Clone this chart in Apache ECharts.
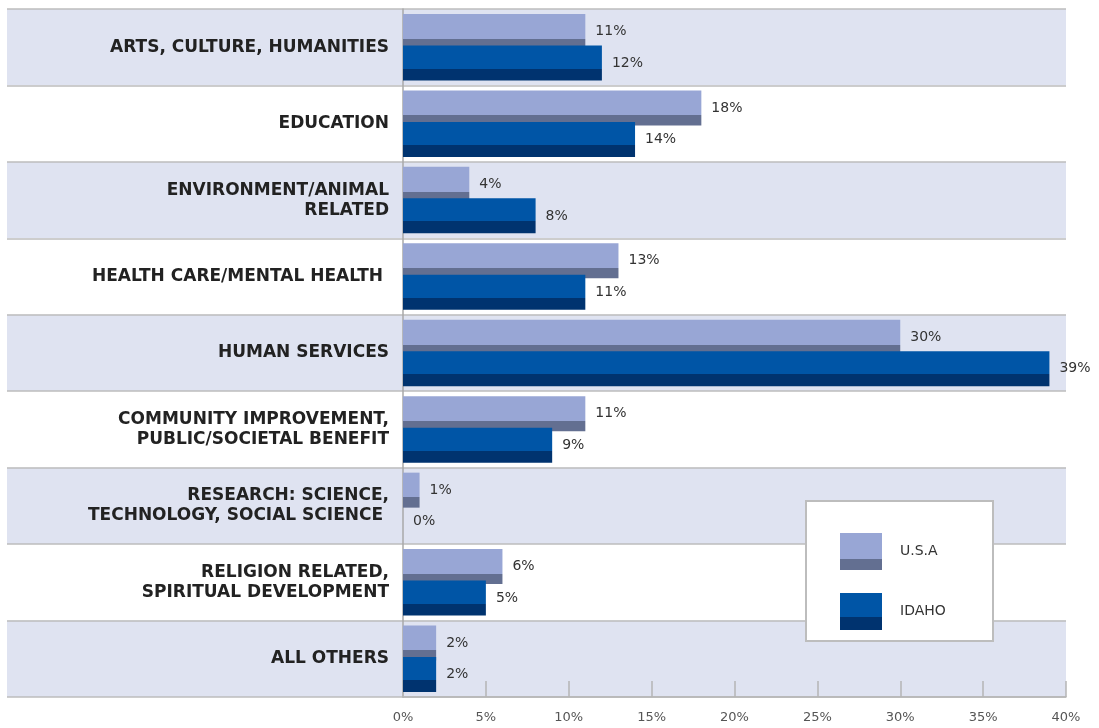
<!DOCTYPE html>
<html>
<head>
<meta charset="utf-8">
<script src="https://cdn.jsdelivr.net/npm/echarts@6/dist/echarts.min.js"></script>
<style>
  html, body { margin: 0; padding: 0; background: #fff; }
  #chart { width: 1099px; height: 728px; }
</style>
</head>
<body>
<div id="chart"></div>
<script>
// categories, top to bottom
const categories = [
  'ARTS, CULTURE, HUMANITIES',
  'EDUCATION',
  'ENVIRONMENT/ANIMAL\nRELATED',
  'HEALTH CARE/MENTAL HEALTH ',
  'HUMAN SERVICES',
  'COMMUNITY IMPROVEMENT,\nPUBLIC/SOCIETAL BENEFIT',
  'RESEARCH: SCIENCE,\nTECHNOLOGY, SOCIAL SCIENCE ',
  'RELIGION RELATED,\nSPIRITUAL DEVELOPMENT',
  'ALL OTHERS'
];
const usaValues = [11, 18, 4, 13, 30, 11, 1, 6, 2];
const idahoValues = [12, 14, 8, 11, 39, 9, 0, 5, 2];
const seriesNames = ['U.S.A', 'IDAHO'];

// face colour + darker bottom strip, to get the flat 3D look
function faceStrip(face, dark, cut) {
  return new echarts.graphic.LinearGradient(0, 0, 0, 1, [
    { offset: 0, color: face },
    { offset: cut, color: face },
    { offset: cut, color: dark },
    { offset: 1, color: dark }
  ]);
}

const chart = echarts.init(document.getElementById('chart'));

const valueLabel = {
  show: true,
  position: 'right',
  distance: 10,
  formatter: '{c}%',
  color: '#333',
  fontFamily: 'DejaVu Sans',
  fontSize: 14
};

const option = {
  animation: false,
  grid: [
    // background bands, reaching under the category labels
    { left: 7, right: 33, top: 9, bottom: 31 },
    // the bars
    { left: 403, right: 33, top: 9, bottom: 31 }
  ],
  xAxis: [
    { gridIndex: 0, type: 'value', show: false, min: 0, max: 1 },
    {
      gridIndex: 1,
      type: 'value',
      min: 0,
      max: 40,
      interval: 5,
      axisLine: { show: true, lineStyle: { color: '#b5b5b5', width: 1.5 } },
      axisTick: { show: true, inside: true, length: 16, lineStyle: { color: '#b5b5b5', width: 1.5 } },
      splitLine: { show: false },
      axisLabel: {
        formatter: '{value}%',
        margin: 14,
        color: '#555',
        fontFamily: 'DejaVu Sans',
        fontSize: 13
      }
    }
  ],
  yAxis: [
    {
      gridIndex: 0,
      type: 'category',
      data: categories,
      inverse: true,
      axisLine: { show: false },
      axisTick: { show: false },
      axisLabel: { show: false },
      splitLine: { show: true, lineStyle: { color: '#bdbdbd', width: 1.5 } },
      splitArea: { show: true, areaStyle: { color: ['#dfe3f1', '#ffffff'] } }
    },
    {
      gridIndex: 1,
      type: 'category',
      data: categories,
      inverse: true,
      axisLine: { show: true, lineStyle: { color: '#a8a8a8', width: 1.5 } },
      axisTick: { show: false },
      axisLabel: {
        margin: 14,
        color: '#222',
        fontFamily: 'DejaVu Sans',
        fontWeight: 'bold',
        fontSize: 17,
        lineHeight: 20,
        align: 'right'
      }
    }
  ],
  legend: {
    data: seriesNames,
    orient: 'vertical',
    left: 835,
    top: 528,
    itemWidth: 42,
    itemHeight: 37,
    itemGap: 23,
    icon: 'rect',
    textStyle: {
      color: '#333',
      fontFamily: 'DejaVu Sans',
      fontSize: 14,
      padding: [0, 0, 0, 13]
    }
  },
  graphic: [
    {
      type: 'rect',
      left: 805,
      top: 500,
      z: 3,
      shape: { width: 187, height: 140 },
      style: { fill: '#fff', stroke: '#bdbdbd', lineWidth: 2 }
    }
  ],
  series: [
    {
      name: seriesNames[0],
      type: 'bar',
      xAxisIndex: 1,
      yAxisIndex: 1,
      data: usaValues,
      barWidth: 35,
      barGap: '-10%',
      itemStyle: { color: faceStrip('#98a6d5', '#636f91', 0.71) },
      label: valueLabel
    },
    {
      name: seriesNames[1],
      type: 'bar',
      xAxisIndex: 1,
      yAxisIndex: 1,
      data: idahoValues,
      barWidth: 35,
      barGap: '-10%',
      itemStyle: { color: faceStrip('#0055a6', '#00336f', 0.66) },
      label: valueLabel
    }
  ]
};

chart.setOption(option);
</script>
</body>
</html>
